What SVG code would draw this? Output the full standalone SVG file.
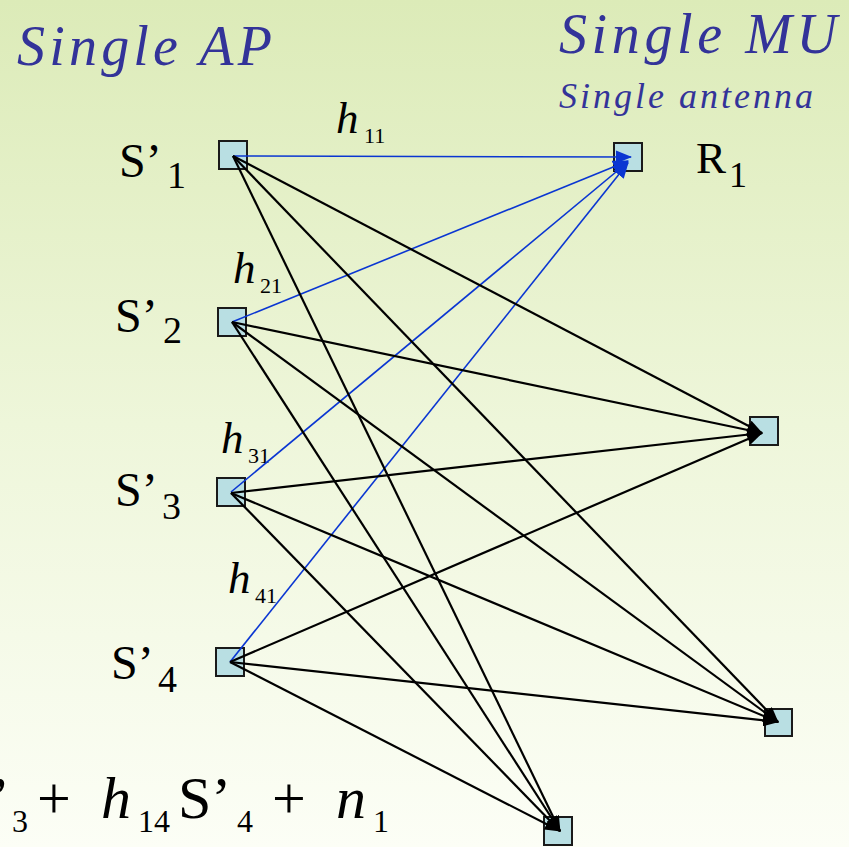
<svg xmlns="http://www.w3.org/2000/svg" width="849" height="847" viewBox="0 0 849 847">
<defs>
<linearGradient id="bg" x1="0" y1="0" x2="0" y2="1">
<stop offset="0" stop-color="#dcebb8"/>
<stop offset="0.5" stop-color="#eef6da"/>
<stop offset="1" stop-color="#fcfef6"/>
</linearGradient>
<marker id="ab" markerUnits="userSpaceOnUse" markerWidth="16" markerHeight="12" refX="15" refY="6" orient="auto">
<path d="M0,0 L16,6 L0,12 z" fill="#000"/>
</marker>
<marker id="au" markerUnits="userSpaceOnUse" markerWidth="16" markerHeight="13" refX="15" refY="6.5" orient="auto">
<path d="M0,0 L16,6.5 L0,13 z" fill="#0a36d2"/>
</marker>
<style>
.box{fill:#b9dfe3;stroke:#1a1a1a;stroke-width:2}
.title{font-style:italic;fill:#333399}
.lbl{fill:#000}
.it{font-style:italic}
.blk{stroke:#000;stroke-width:2.2;fill:none;marker-end:url(#ab)}
.blu{stroke:#0a36d2;stroke-width:1.6;fill:none;marker-end:url(#au)}
</style>
</defs>
<rect x="0" y="0" width="849" height="847" fill="url(#bg)"/>

<g font-family="'Liberation Serif', 'Times New Roman', Times, 'DejaVu Serif', serif">
<text class="title" x="17" y="65" font-size="56" textLength="255" lengthAdjust="spacing">Single AP</text>
<text class="title" x="559" y="53" font-size="56" textLength="278" lengthAdjust="spacing">Single MU</text>
<text class="title" x="559" y="108" font-size="36" textLength="254" lengthAdjust="spacing">Single antenna</text>

<g id="S1">
<rect class="box" x="219" y="141" width="28" height="28"/>
<text class="lbl" x="119" y="177" font-size="48">S’</text>
<text class="lbl" x="167" y="188" font-size="38">1</text>
</g>
<g id="S2">
<rect class="box" x="218" y="308" width="28" height="28"/>
<text class="lbl" x="115" y="332" font-size="48">S’</text>
<text class="lbl" x="163" y="343" font-size="38">2</text>
</g>
<g id="S3">
<rect class="box" x="217" y="478" width="28" height="28"/>
<text class="lbl" x="115" y="506" font-size="48">S’</text>
<text class="lbl" x="162" y="519" font-size="38">3</text>
</g>
<g id="S4">
<rect class="box" x="216" y="648" width="28" height="28"/>
<text class="lbl" x="111" y="679" font-size="48">S’</text>
<text class="lbl" x="158" y="692" font-size="38">4</text>
</g>
<g id="R1">
<rect class="box" x="614" y="143" width="28" height="28"/>
<text class="lbl" x="696" y="173" font-size="45">R</text>
<text class="lbl" x="729" y="187" font-size="36">1</text>
</g>
<g id="R2">
<rect class="box" x="750" y="417" width="28" height="28"/>
</g>
<g id="R3">
<rect class="box" x="765" y="709" width="27" height="27"/>
</g>
<g id="R4">
<rect class="box" x="544" y="817" width="28" height="28"/>
</g>

<g id="labels">
<text class="lbl it" x="336" y="133" font-size="45">h</text>
<text class="lbl" x="364" y="143" font-size="22">11</text>
<text class="lbl it" x="233" y="283" font-size="45">h</text>
<text class="lbl" x="260" y="293" font-size="22">21</text>
<text class="lbl it" x="221" y="453" font-size="45">h</text>
<text class="lbl" x="248" y="463" font-size="22">31</text>
<text class="lbl it" x="228" y="593" font-size="45">h</text>
<text class="lbl" x="255" y="603" font-size="22">41</text>
</g>

<g id="equation">
<text class="lbl" x="-10" y="818" font-size="60">’</text>
<text class="lbl" x="12" y="832" font-size="32">3</text>
<text class="lbl" x="37" y="818" font-size="60">+</text>
<text class="lbl it" x="101" y="818" font-size="60">h</text>
<text class="lbl" x="138" y="832" font-size="32">14</text>
<text class="lbl" x="178" y="818" font-size="60">S’</text>
<text class="lbl" x="237" y="832" font-size="32">4</text>
<text class="lbl" x="272" y="818" font-size="60">+</text>
<text class="lbl it" x="336" y="818" font-size="60">n</text>
<text class="lbl" x="373" y="832" font-size="32">1</text>
</g>
</g>

<g id="connectors">
<line class="blu" x1="233" y1="156" x2="631" y2="157"/>
<line class="blu" x1="232" y1="322" x2="628" y2="161"/>
<line class="blu" x1="231" y1="492" x2="628" y2="162"/>
<line class="blu" x1="230" y1="662" x2="628" y2="163"/>

<line class="blk" x1="233" y1="156" x2="762" y2="433"/>
<line class="blk" x1="233" y1="156" x2="778" y2="722"/>
<line class="blk" x1="233" y1="156" x2="560" y2="831"/>

<line class="blk" x1="232" y1="322" x2="762" y2="433"/>
<line class="blk" x1="232" y1="322" x2="778" y2="722"/>
<line class="blk" x1="232" y1="322" x2="560" y2="831"/>

<line class="blk" x1="231" y1="493" x2="762" y2="433"/>
<line class="blk" x1="231" y1="493" x2="778" y2="722"/>
<line class="blk" x1="231" y1="493" x2="560" y2="831"/>

<line class="blk" x1="230" y1="662" x2="762" y2="433"/>
<line class="blk" x1="230" y1="662" x2="778" y2="722"/>
<line class="blk" x1="230" y1="662" x2="560" y2="831"/>
</g>
</svg>
